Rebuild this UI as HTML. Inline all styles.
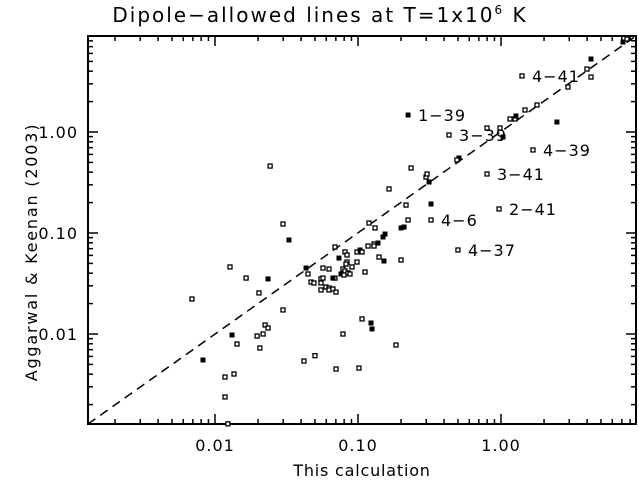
<!DOCTYPE html>
<html><head><meta charset="utf-8"><style>
html,body{margin:0;padding:0;background:#fff;}
svg{display:block;font-family:"DejaVu Sans","Liberation Sans",sans-serif;}
</style></head><body>
<svg id="chart" width="639" height="481" viewBox="0 0 639 481" xmlns="http://www.w3.org/2000/svg">
<text x="320" y="22" font-size="20" letter-spacing="2" text-anchor="middle" fill="#000">Dipole−allowed lines at T=1x10<tspan dy="-8" font-size="12">6</tspan><tspan dy="8"> K</tspan></text>
<text x="362" y="476" font-size="16" letter-spacing="0.8" text-anchor="middle" fill="#000">This calculation</text>
<text transform="translate(37,252) rotate(-90)" font-size="16" letter-spacing="1.8" text-anchor="middle" fill="#000">Aggarwal &amp; Keenan (2003)</text>
<g id="axes"></g>
<g id="marks"></g>
<g id="labels"></g>
</svg>
<script>
const xs=[0.0299,0.1067,0.1233,0.1253,0.1845,0.0785,0.0419,0.0500,0.0702,0.1016,0.01315,0.01425,0.0197,0.0217,0.0224,0.0235,0.0206,0.00824,0.01175,0.01358,0.01175,0.0069,0.0123,0.0243,0.0299,0.0329,0.01273,0.0165,0.0235,0.0203,0.0433,0.0447,0.0469,0.0492,0.0551,0.0569,0.0551,0.0551,0.0597,0.0627,0.0627,0.0668,0.0702,0.0569,0.0627,0.0690,0.0736,0.0811,0.0838,0.0838,0.0824,0.0785,0.0811,0.0690,0.0668,0.0760,0.0798,0.0851,0.0879,0.0908,0.0984,0.1120,0.0984,0.1033,0.1067,0.1175,0.1294,0.1294,0.138,0.1315,0.1194,0.1496,0.1545,0.1403,0.152,0.1648,0.2,0.2,0.210,0.2167,0.224,0.235,0.299,0.304,0.314,0.324,0.324,0.224,0.433,0.798,0.984,1.033,1.156,1.253,1.273,1.472,1.786,1.674,2.46,1.402,2.94,3.99,4.26,4.26,7.13,7.6,0.798,0.969,0.500,0.508,0.492];
const ys=[0.0173,0.0141,0.01285,0.01122,0.00778,0.0100,0.0054,0.0061,0.0045,0.0046,0.00977,0.00796,0.00955,0.0100,0.01228,0.01146,0.00727,0.00553,0.00375,0.00402,0.00238,0.0222,0.00129,0.460,0.1228,0.0853,0.0461,0.0358,0.0351,0.0255,0.0450,0.0393,0.0327,0.0320,0.0351,0.0358,0.0320,0.0273,0.0292,0.0285,0.0273,0.0279,0.0260,0.0450,0.0440,0.0727,0.0565,0.0649,0.0606,0.0516,0.0493,0.0440,0.0421,0.0358,0.0358,0.0393,0.0384,0.0402,0.0393,0.0461,0.0516,0.0411,0.0649,0.0679,0.0649,0.0743,0.0778,0.0743,0.0796,0.1122,0.1256,0.0913,0.0977,0.0578,0.0528,0.273,0.054,0.1122,0.1146,0.189,0.1345,0.440,0.358,0.384,0.320,0.1937,0.1345,1.473,0.934,1.096,1.096,0.892,1.345,1.345,1.44,1.652,1.85,0.664,1.256,3.59,2.79,4.2,5.28,3.5,7.78,8.33,0.384,0.173,0.0679,0.553,0.528];
const filled=[0,0,1,1,0,0,0,0,0,0,1,0,0,0,0,0,0,1,0,0,0,0,0,0,0,1,0,0,1,0,1,0,0,0,0,0,0,0,0,0,0,0,0,0,0,0,1,0,0,0,0,0,0,0,1,1,0,0,0,0,0,0,0,1,0,0,0,0,1,0,0,1,1,0,1,0,0,1,1,0,0,0,0,0,1,1,0,1,0,0,0,1,0,0,1,0,0,0,1,0,0,0,1,0,1,0,0,0,0,1,0];
const annX=[0.224,0.433,1.402,1.674,0.798,0.969,0.324,0.500];
const annY=[1.473,0.934,3.59,0.664,0.384,0.173,0.1345,0.0679];
const annText=["1-39","3-39","4-41","4-39","3-41","2-41","4-6","4-37"];
const xTickVals=[0.01,0.1,1];
const xTickLabels=["0.01","0.10","1.00"];
const yTickVals=[0.01,0.1,1];
const yTickLabels=["0.01","0.10","1.00"];

const L=88,R=636,T=36,B=424;
const lmin=-2.888,lmax=0.944;
function sx(v){return 501+143*Math.log10(v);}
function sy(v){return 132-101*Math.log10(v);}
const NS="http://www.w3.org/2000/svg";
function mk(tag,attrs,parent){const e=document.createElementNS(NS,tag);for(const k in attrs)e.setAttribute(k,attrs[k]);parent.appendChild(e);return e;}
const axes=document.getElementById('axes'),marks=document.getElementById('marks'),labels=document.getElementById('labels');

const frame=mk('rect',{x:L,y:T,width:R-L,height:B-T,fill:'none',stroke:'#000','stroke-width':2},axes);



const diag=mk('line',{x1:L,y1:B,x2:R,y2:T,stroke:'#000','stroke-width':1.5,'stroke-dasharray':'9,6'},axes);



for(let d=-3;d<=1;d++){for(let m=1;m<=9;m++){
  const v=m*Math.pow(10,d);const lv=Math.log10(v);
  if(lv<lmin||lv>lmax)continue;
  const len=m===1?10:5;
  const x=sx(v);
  const t1=mk('line',{x1:x,y1:B,x2:x,y2:B-len,stroke:'#000','stroke-width':1.5},axes);
  
  
  const t2=mk('line',{x1:x,y1:T,x2:x,y2:T+len,stroke:'#000','stroke-width':1.5},axes);
  
  
  const y=sy(v);
  const t3=mk('line',{x1:L,y1:y,x2:L+len,y2:y,stroke:'#000','stroke-width':1.5},axes);
  
  
  const t4=mk('line',{x1:R,y1:y,x2:R-len,y2:y,stroke:'#000','stroke-width':1.5},axes);
  
  
}}
xTickVals.forEach((v,i)=>{
  const t=mk('text',{x:sx(v),y:451,'font-size':16,'letter-spacing':1,'text-anchor':'middle',fill:'#000'},axes);
  t.textContent=xTickLabels[i];
  
  
});
yTickVals.forEach((v,i)=>{
  const t=mk('text',{x:78,y:sy(v)+6,'font-size':16,'letter-spacing':1,'text-anchor':'end',fill:'#000'},axes);
  t.textContent=yTickLabels[i];
  
  
});
xs.forEach((v,i)=>{
  const x=sx(v),y=sy(ys[i]);
  if(y>B+1||y<T-1)return;
  let r;
  if(filled[i]){r=mk('rect',{x:x-2.5,y:y-2.5,width:5,height:5,fill:'#000'},marks);}
  else{r=mk('rect',{x:x-2,y:y-2,width:4,height:4,fill:'#fff',stroke:'#000','stroke-width':1.3},marks);}
  
  
});
annX.forEach((v,i)=>{
  const t=mk('text',{x:sx(v)+10,y:sy(annY[i])+6,'font-size':16,'letter-spacing':1,fill:'#000'},labels);
  t.textContent=annText[i].replace('-','−');
  
  
});
</script>
</body></html>
